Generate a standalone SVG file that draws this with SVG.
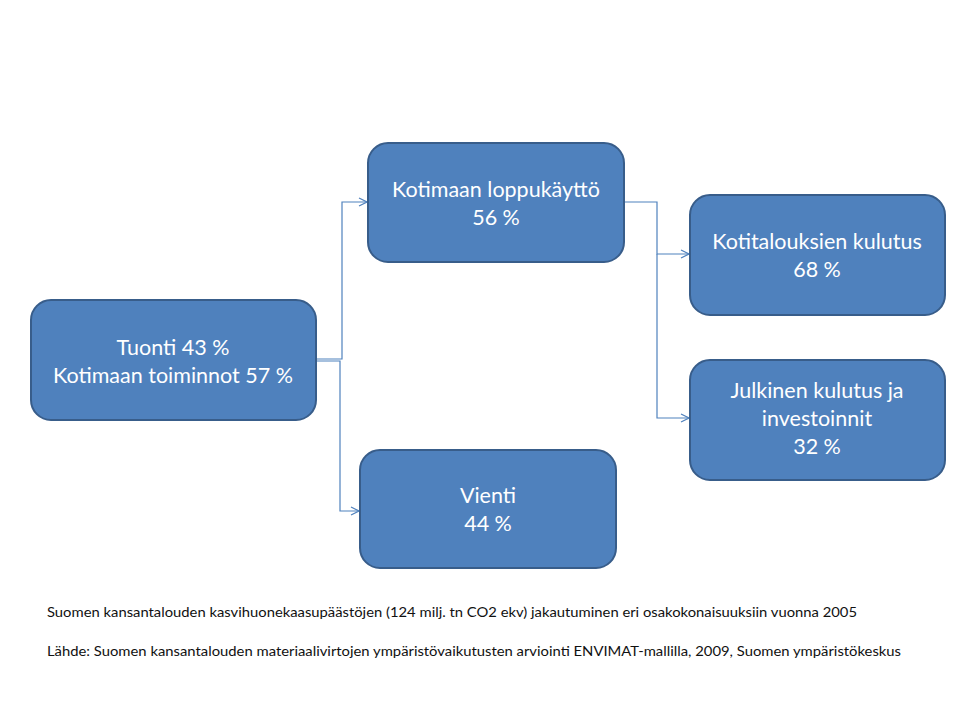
<svg xmlns="http://www.w3.org/2000/svg" width="960" height="720" viewBox="0 0 960 720">
<style>
.box{fill:#4f81bd;stroke:#385d8a;stroke-width:2}
.t{font-family:Lato,"Open Sans","Liberation Sans",sans-serif;font-size:21.5px;fill:#ffffff;text-anchor:middle}
.c{fill:none;stroke:#4f81bd;stroke-width:1.2}
.n{font-family:Lato,"Liberation Sans",sans-serif;font-size:12.5px;fill:#111111}
</style>
<defs>
<marker id="arr" markerWidth="10" markerHeight="10" refX="9" refY="5" orient="auto" markerUnits="userSpaceOnUse">
<path d="M1,1 L9,5 L1,9" fill="none" stroke="#4f81bd" stroke-width="1.2"/>
</marker>
</defs>
<rect width="960" height="720" fill="#ffffff"/>
<g id="connectors">
<path class="c" d="M316,359 H342 V202 H367" marker-end="url(#arr)"/>
<path class="c" d="M316,361 H340 V511 H359" marker-end="url(#arr)"/>
<path class="c" d="M624,202 H657 V254 H689" marker-end="url(#arr)"/>
<path class="c" d="M657,254 V418 H689" marker-end="url(#arr)"/>
</g>
<g id="tuonti">
<rect class="box" x="31" y="300" width="285" height="120" rx="20"/>
<text class="t" x="173" y="355">Tuonti 43 %</text>
<text class="t" x="173" y="383">Kotimaan toiminnot 57 %</text>
</g>
<g id="kotimaan">
<rect class="box" x="368" y="143" width="256" height="119" rx="20"/>
<text class="t" x="496" y="197">Kotimaan loppukäyttö</text>
<text class="t" x="496" y="225">56 %</text>
</g>
<g id="vienti">
<rect class="box" x="360" y="450" width="256" height="118" rx="20"/>
<text class="t" x="488" y="503">Vienti</text>
<text class="t" x="488" y="531">44 %</text>
</g>
<g id="kotitaloudet">
<rect class="box" x="690" y="195" width="255" height="120" rx="20"/>
<text class="t" x="817" y="249">Kotitalouksien kulutus</text>
<text class="t" x="817" y="277">68 %</text>
</g>
<g id="julkinen">
<rect class="box" x="690" y="360" width="255" height="120" rx="20"/>
<text class="t" x="817" y="398">Julkinen kulutus ja</text>
<text class="t" x="817" y="426">investoinnit</text>
<text class="t" x="817" y="454">32 %</text>
</g>
<g id="notes">
<text class="n" x="47" y="617" textLength="810" lengthAdjust="spacingAndGlyphs">Suomen kansantalouden kasvihuonekaasupäästöjen (124 milj. tn CO2 ekv) jakautuminen eri osakokonaisuuksiin  vuonna 2005</text>
<text class="n" x="47" y="656" textLength="854" lengthAdjust="spacingAndGlyphs">Lähde: Suomen kansantalouden materiaalivirtojen ympäristövaikutusten arviointi ENVIMAT-mallilla, 2009, Suomen ympäristökeskus</text>
</g>
</svg>
